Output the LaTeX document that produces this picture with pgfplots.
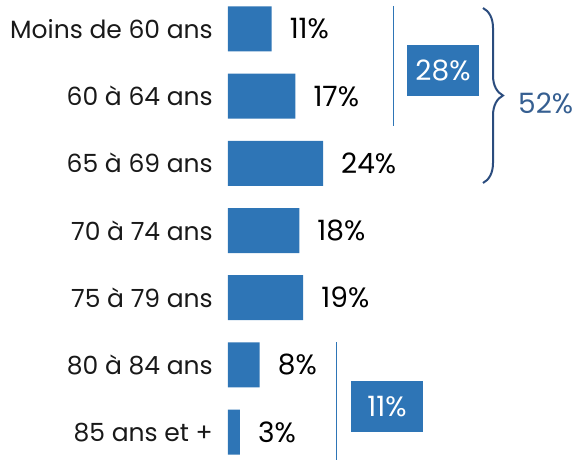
\documentclass[border=0pt]{standalone}
\usepackage{fontspec}
\setmainfont{Poppins}
\usepackage{pgfplots}
\pgfplotsset{compat=1.18}
\usetikzlibrary{decorations.pathreplacing}
\definecolor{barblue}{HTML}{2E75B6}
\definecolor{navy}{HTML}{2B4C7E}
\definecolor{txtblue}{HTML}{365F91}
\newcommand{\lblfont}{\fontsize{25}{30}\selectfont}
\newcommand{\numfont}{\fontsize{28}{33}\selectfont}
\begin{document}
\begin{tikzpicture}
\begin{axis}[
  anchor=south west, at={(0pt,0pt)},
  scale only axis, width=349pt, height=461pt,
  xmin=0, xmax=88.13, ymin=-0.43, ymax=6.43, y dir=reverse,
  xbar, bar width=45pt,
  axis line style={draw=none}, major tick length=0pt,
  xtick=\empty, ytick={0,1,2,3,4,5,6},
  yticklabels={Moins de 60 ans, 60 à 64 ans, 65 à 69 ans, 70 à 74 ans, 75 à 79 ans, 80 à 84 ans, 85 ans et +},
  yticklabel style={font=\lblfont, inner sep=0pt, xshift=-15pt, text=black!90},
  clip=false,
  point meta=x,
  nodes near coords={\pgfmathprintnumber[assume math mode=true]{\pgfplotspointmeta}\%},
  every node near coord/.append style={anchor=west, inner sep=0pt, xshift=18pt, font=\numfont, text=black},
]
\addplot[fill=barblue, draw=none] coordinates {(11,0) (17,1) (24,2) (18,3) (19,4) (8,5) (3,6)};
\end{axis}
% annotations
\draw[barblue, line width=0.9pt] (165pt,455pt) -- (165pt,335pt);
\node[fill=barblue, minimum width=72pt, minimum height=51pt, inner sep=0pt, text=white, font=\numfont] at (215pt,390.5pt) {28\%};
\draw[navy, line width=2pt, decorate, decoration={brace, amplitude=20pt}] (255pt,453pt) -- (255pt,278pt);
\node[anchor=west, inner sep=0pt, text=txtblue, font=\numfont] at (290pt,358pt) {52\%};
\draw[barblue, line width=0.9pt] (108pt,119pt) -- (108pt,1pt);
\node[fill=barblue, minimum width=72pt, minimum height=51pt, inner sep=0pt, text=white, font=\numfont] at (159pt,54.5pt) {11\%};
\pgfresetboundingbox
\path (-228pt,0pt) rectangle (349pt,461pt);
\end{tikzpicture}
\end{document}
